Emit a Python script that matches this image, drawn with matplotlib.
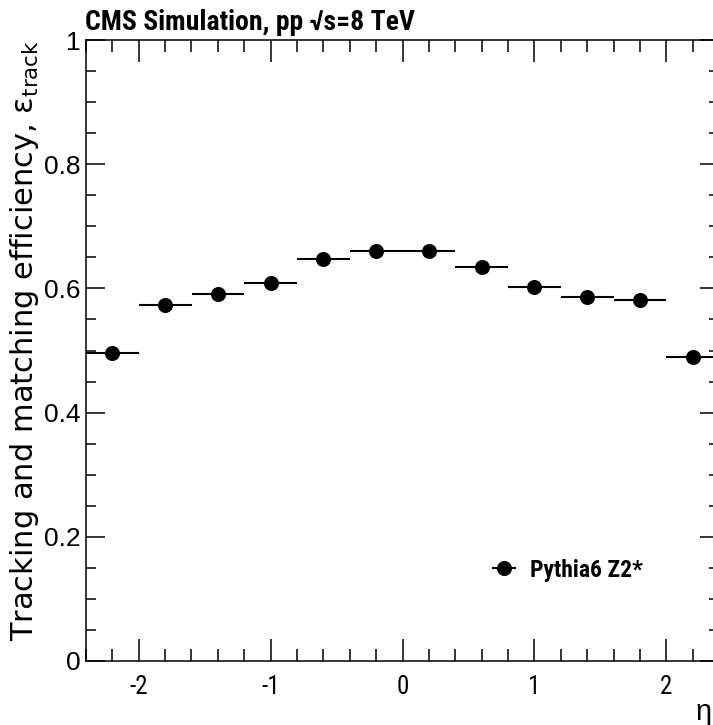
import matplotlib
matplotlib.use("Agg")
import matplotlib.pyplot as plt
from matplotlib.ticker import MultipleLocator, FixedLocator
import numpy as np
import warnings
warnings.filterwarnings("ignore")

# Data
bin_edges = [-2.4, -2.0, -1.6, -1.2, -0.8, -0.4, 0.0, 0.4, 0.8, 1.2, 1.6, 2.0, 2.4]
efficiency = [0.496, 0.573, 0.591, 0.609, 0.647, 0.661, 0.660, 0.635, 0.602, 0.586, 0.582, 0.490]
series_label = "Pythia6 Z2*"
title_text = "CMS Simulation, pp \u221as=8 TeV"
ylabel_text = "Tracking and matching efficiency, \u03b5$_{\\rm track}$"
xlabel_text = "\u03b7"
xtick_vals = [-2, -1, 0, 1, 2]
xtick_labels = ['-2', '-1', '0', '1', '2']
ytick_vals = [0, 0.2, 0.4, 0.6, 0.8, 1.0]
ytick_labels = ['0', '0.2', '0.4', '0.6', '0.8', '1']

edges = np.array(bin_edges)
centers = 0.5 * (edges[:-1] + edges[1:])
halfw = 0.5 * (edges[1:] - edges[:-1])

plt.rcParams['mathtext.fontset'] = 'custom'
plt.rcParams['mathtext.rm'] = 'DejaVu Sans'
plt.rcParams['mathtext.it'] = 'DejaVu Sans:italic'

narrow = ['Roboto Condensed', 'Archivo Narrow', 'DejaVu Sans']
narrow_bold = ['Roboto Condensed', 'Fira Sans Condensed', 'DejaVu Sans']
regular = ['Liberation Sans', 'DejaVu Sans']

W, H = 713, 725
fig = plt.figure(figsize=(W / 100, H / 100), dpi=100)
fig.patch.set_facecolor('white')
x0, x1 = 86, 719
y0, y1 = 661, 40
ax = fig.add_axes([x0 / W, 1 - y0 / H, (x1 - x0) / W, (y0 - y1) / H])

ax.errorbar(centers, efficiency, xerr=halfw, fmt='o', color='black',
            markersize=9.8, elinewidth=1.5, capsize=0, label=series_label)

ax.set_xlim(edges[0], edges[-1])
ax.set_ylim(0, 1)

ax.xaxis.set_major_locator(FixedLocator(xtick_vals))
ax.xaxis.set_minor_locator(MultipleLocator(0.2))
ax.yaxis.set_major_locator(FixedLocator(ytick_vals))
ax.yaxis.set_minor_locator(MultipleLocator(0.05))

ax.tick_params(axis='x', which='major', direction='in', length=16, width=1.1,
               top=True, bottom=True, pad=10)
ax.tick_params(axis='x', which='minor', direction='in', length=8.5, width=1.1,
               top=True, bottom=True)
ax.tick_params(axis='y', which='major', direction='in', length=14, width=1.1,
               left=True, right=True, pad=4)
ax.tick_params(axis='y', which='minor', direction='in', length=7.5, width=1.1,
               left=True, right=True)
for s in ax.spines.values():
    s.set_linewidth(1.1)

ax.set_xticklabels(xtick_labels, fontfamily=narrow, fontstretch='condensed', fontsize=18)
ax.set_yticklabels(ytick_labels, fontfamily=regular, fontsize=19)

ax.set_ylabel(ylabel_text, fontfamily=['DejaVu Sans'], fontsize=22, loc='top', labelpad=2)

fig.text(85 / W, 1 - 30 / H, title_text, fontfamily=narrow_bold, fontstretch='condensed',
         fontsize=20, fontweight='bold', ha='left', va='baseline')
fig.text(712 / W, 1 - 720 / H, xlabel_text, fontfamily=regular, fontsize=21,
         ha='right', va='baseline')

leg = ax.legend(loc='center left', bbox_to_anchor=(486 / W, 1 - 570 / H),
                bbox_transform=fig.transFigure, frameon=False,
                prop={'family': narrow_bold, 'size': 17, 'weight': 'bold', 'stretch': 'condensed'},
                handlelength=1.5, handletextpad=0.35, borderpad=0, borderaxespad=0)

fig.savefig('out.png', dpi=100)
